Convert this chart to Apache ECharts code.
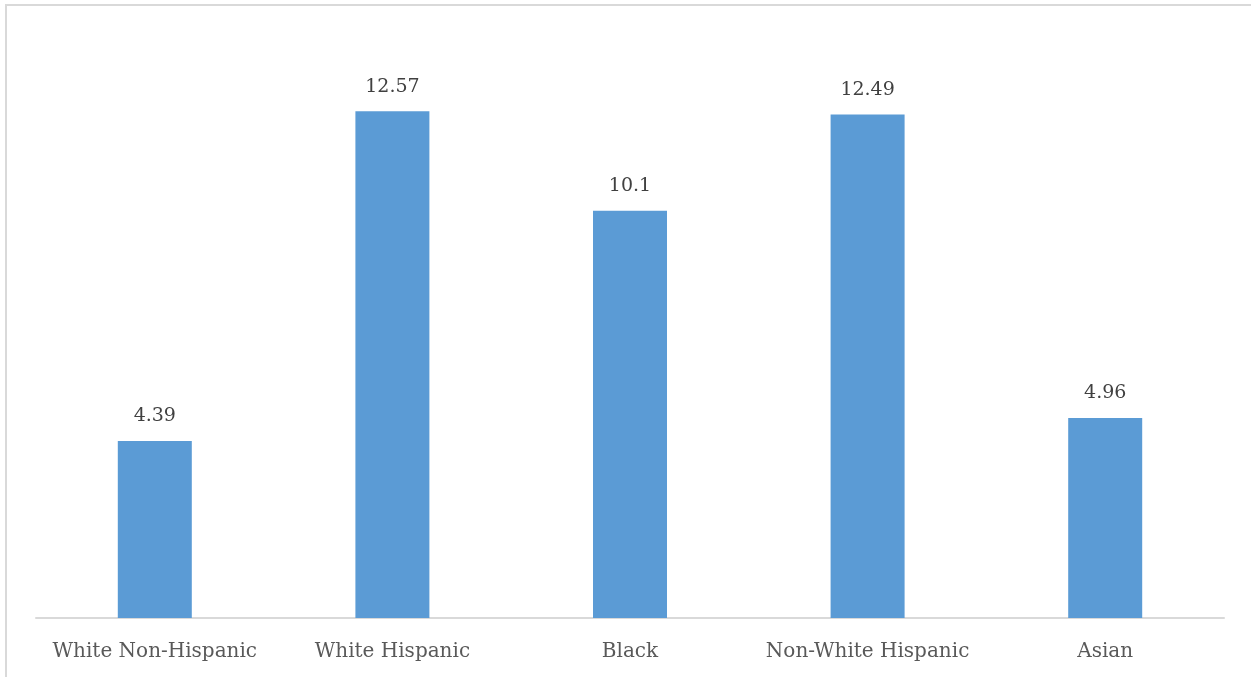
<!DOCTYPE html>
<html>
<head>
<meta charset="utf-8">
<script src="https://cdn.jsdelivr.net/npm/echarts@6/dist/echarts.min.js"></script>
<style>
html,body{margin:0;padding:0;background:#fff;}
#chart{width:1251px;height:677px;}
</style>
</head>
<body>
<div id="chart"></div>
<script>
const categories = ["White Non-Hispanic", "White Hispanic", "Black", "Non-White Hispanic", "Asian"];
const values = [4.39, 12.57, 10.1, 12.49, 4.96];

const chart = echarts.init(document.getElementById('chart'), null, {renderer: 'canvas'});
chart.setOption({
  animation: false,
  backgroundColor: '#ffffff',
  graphic: [
    {type: 'rect', shape: {x: 5, y: 4, width: 2, height: 700}, style: {fill: '#d9d9d9'}, silent: true},
    {type: 'rect', shape: {x: 5, y: 4, width: 1300, height: 2}, style: {fill: '#d9d9d9'}, silent: true}
  ],
  grid: {left: 36, right: 27, top: 53.5, bottom: 59, containLabel: false},
  xAxis: {
    type: 'category',
    data: categories,
    axisLine: {lineStyle: {color: '#d9d9d9', width: 2}},
    axisTick: {show: false},
    axisLabel: {interval: 0, hideOverlap: false, color: '#595959', fontFamily: 'DejaVu Serif', fontSize: 20, margin: 24}
  },
  yAxis: {
    type: 'value', min: 0, max: 14, interval: 2,
    show: false,
    splitLine: {show: false}
  },
  series: [{
    type: 'bar',
    data: values,
    barWidth: 74,
    itemStyle: {color: '#5b9bd5'},
    label: {show: true, position: 'top', distance: 15, color: '#404040', fontFamily: 'DejaVu Serif', fontSize: 19}
  }]
});
</script>
</body>
</html>
